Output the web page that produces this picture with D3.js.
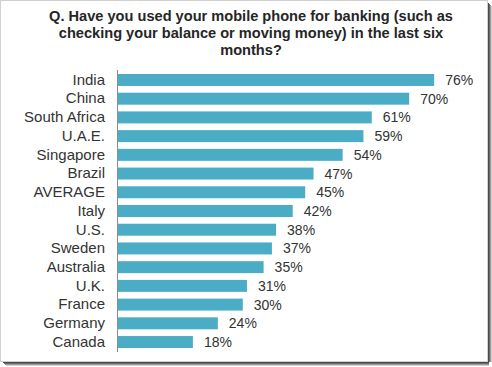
<!DOCTYPE html>
<html><head><meta charset="utf-8">
<script src="https://cdn.jsdelivr.net/npm/d3@7"></script>
<style>html,body{margin:0;padding:0;background:#fff;}svg{display:block;}</style>
</head><body>
<script>
const categories = ["India","China","South Africa","U.A.E.","Singapore","Brazil","AVERAGE","Italy","U.S.","Sweden","Australia","U.K.","France","Germany","Canada"];
const values = [76,70,61,59,54,47,45,42,38,37,35,31,30,24,18];
const titleLines = ["Q. Have you used your mobile phone for banking (such as","checking your balance or moving money) in the last six","months?"];

const W = 492, H = 367;
const svg = d3.select("body").append("svg").attr("width", W).attr("height", H);

// frame
svg.append("rect").attr("x",0).attr("y",0).attr("width",W).attr("height",H).attr("fill","#fff");
svg.append("rect").attr("x",0.5).attr("y",0.5).attr("width",487).attr("height",361)
  .attr("fill","none").attr("stroke","#d0d0d0");
const shade = ["#4a4a4a","#6a6a6a","#9a9a9a","#cfcfcf"];
shade.forEach((c,i)=>{
  svg.append("rect").attr("x",488+i).attr("y",3+i).attr("width",1).attr("height",359-i).attr("fill",c);
  svg.append("rect").attr("x",3+i).attr("y",362+i).attr("width",486-i).attr("height",1).attr("fill",c);
});

const font = "'Liberation Sans', Arial, sans-serif";

// title
svg.append("g").selectAll("text").data(titleLines).join("text")
  .attr("x", 251).attr("y", (d,i)=>21 + i*17)
  .attr("text-anchor","middle")
  .attr("font-family", font).attr("font-size", 14.6).attr("font-weight","bold")
  .attr("fill","#262626").text(d=>d);

const x0 = 117;
const x = d3.scaleLinear().domain([0,100]).range([0,416]);
const y = d3.scaleBand().domain(categories).range([70.6, 351.4]).paddingInner(0.36).paddingOuter(0.18);

const g = svg.append("g");
g.selectAll("rect.bar").data(categories).join("rect").attr("class","bar")
  .attr("x", x0+1).attr("y", d=>y(d))
  .attr("width", (d,i)=>x(values[i])).attr("height", y.bandwidth())
  .attr("fill","#4BACC6");

// axis
const axis = d3.axisLeft(y).tickSize(0).tickPadding(12);
const ag = svg.append("g").attr("transform",`translate(${x0},0)`).call(axis);
ag.select(".domain").attr("stroke","#8c8c8c").attr("d", `M0.5,70V352`);
ag.selectAll("text").attr("font-family", font).attr("font-size", 15).attr("fill","#333");

// value labels
g.selectAll("text.val").data(categories).join("text").attr("class","val")
  .attr("x", (d,i)=>x0 + x(values[i]) + 12)
  .attr("y", d=>y(d)+y.bandwidth()/2)
  .attr("dy","0.36em")
  .attr("font-family", font).attr("font-size", 14).attr("fill","#333")
  .text((d,i)=>values[i]+"%");
</script>
</body></html>
